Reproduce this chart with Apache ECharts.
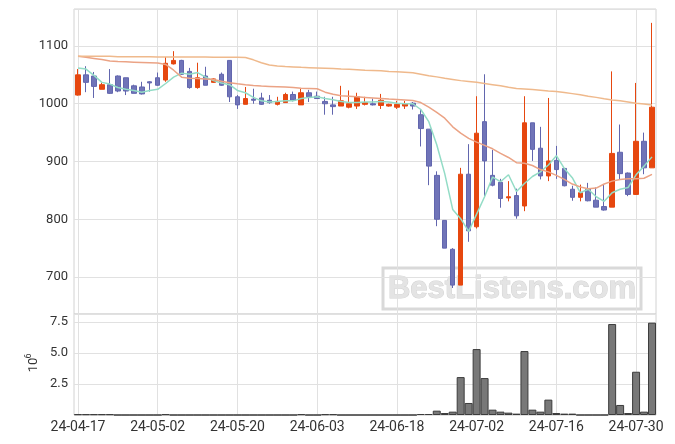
<!DOCTYPE html>
<html>
<head>
<meta charset="utf-8">
<script src="https://cdn.jsdelivr.net/npm/echarts@6/dist/echarts.min.js"></script>
<style>
html,body{margin:0;padding:0;background:#fff;}
#chart{width:675px;height:444px;}
</style>
</head>
<body>
<div id="chart"></div>
<script>
const dates = ['24-04-17','24-04-18','24-04-19','24-04-22','24-04-23','24-04-24','24-04-25','24-04-26','24-04-29','24-04-30',
'24-05-02','24-05-03','24-05-07','24-05-08','24-05-09','24-05-10','24-05-13','24-05-14','24-05-16','24-05-17',
'24-05-20','24-05-21','24-05-22','24-05-23','24-05-24','24-05-27','24-05-28','24-05-29','24-05-30','24-05-31',
'24-06-03','24-06-04','24-06-05','24-06-07','24-06-10','24-06-11','24-06-12','24-06-13','24-06-14','24-06-17',
'24-06-18','24-06-19','24-06-20','24-06-21','24-06-24','24-06-25','24-06-26','24-06-27','24-06-28','24-07-01',
'24-07-02','24-07-03','24-07-04','24-07-05','24-07-08','24-07-09','24-07-10','24-07-11','24-07-12','24-07-15',
'24-07-16','24-07-17','24-07-18','24-07-19','24-07-22','24-07-23','24-07-24','24-07-25','24-07-26','24-07-29',
'24-07-30','24-07-31','24-08-01'];

const open = [1015,1050,1048,1025,1033,1048,1045,1031,1029,1038,
1045,1041,1069,1075,1056,1028,1048,1037,1051,1075,
1012,999,1008,1010,1006,999,1002,1016,998,1019,
1013,1004,998,996,994,996,999,1000,997,996,
994,996,1001,981,956,876,798,748,686,878,
787,969,876,864,837,841,823,967,923,875,
902,888,852,838,852,833,822,821,916,880,
843,935,889];
const close = [1050,1037,1030,1033,1018,1022,1022,1018,1017,1036,
1032,1070,1075,1051,1028,1045,1032,1043,1032,1012,
998,1009,1006,999,1002,1004,1016,1006,1019,1012,
1009,1000,995,1005,1000,1012,1002,998,1006,999,
999,1000,996,957,892,800,750,686,878,780,
949,901,859,836,839,806,967,921,875,901,
886,858,838,846,832,821,816,914,879,843,
935,889,994];
const low = [1014,1020,1010,1025,1017,1020,1015,1018,1016,1021,
1031,1038,1068,1050,1026,1026,1032,1036,1031,1003,
991,999,1000,998,1000,997,1002,1004,998,1003,
1009,981,981,996,992,991,997,997,991,995,
991,991,990,926,859,788,750,681,686,761,
784,840,857,820,831,801,814,901,869,866,
870,857,832,831,831,821,815,821,869,840,
842,878,889];
const high = [1060,1065,1055,1037,1060,1049,1045,1033,1038,1039,
1054,1081,1091,1076,1062,1071,1064,1044,1054,1075,
1015,1029,1026,1019,1015,1012,1019,1021,1026,1024,
1021,1012,1012,1031,1023,1019,1012,1009,1017,1000,
1005,1005,1003,991,956,883,798,750,889,930,
1013,1051,920,870,866,853,1013,967,960,1010,
927,888,858,860,863,855,860,1056,964,881,
1036,950,1140];

const volume = [60000,60000,60000,60000,60000,0,0,0,0,0,
0,60000,0,0,0,0,0,0,0,0,
0,0,0,0,0,0,0,0,60000,0,
0,60000,60000,0,0,0,0,0,0,0,
0,0,0,80000,80000,350000,160000,270000,3060000,970000,
5320000,2980000,430000,270000,190000,110000,5160000,430000,270000,1240000,
160000,110000,110000,0,0,0,0,7340000,810000,160000,
3490000,270000,7450000];

const ma5 = [1062,1060,1049,1037,1034,1028,1025,1023,1020,1023,
1025,1035,1046,1053,1051,1054,1046,1040,1036,1033,
1023,1019,1011,1005,1003,1004,1005,1005,1009,1011,
1012,1009,1007,1004,1002,1002,1003,1003,1004,1003,
1001,1000,1000,990,969,929,879,817,801,779,
809,839,873,865,877,848,862,874,882,894,
910,888,872,846,852,839,831,846,852,855,
877,892,908];
const ma20 = [1082,1080.5,1078.5,1076.5,1074,1073,1072.5,1072,1071.5,1071,
1070.5,1068,1058,1046,1044,1043.5,1043,1042,1039,1036.5,
1034.5,1033,1031.7,1030.5,1030,1029.5,1029,1028,1027,1026.5,
1026,1020,1016.5,1014,1013,1012,1011,1010,1009,1008,
1007.4,1006.5,1005.5,1002,994,985,975,960,949,940,
933.6,928,922,914,907,898,897,893,886,882,
876,869,861,856,853,854,861,866,869,870,
870,871,877.6];
const ma60 = [1082,1082,1082,1082,1082,1081.5,1081.5,1081.5,1081.5,1081.5,
1081,1081,1081,1081,1081,1081,1081,1080.5,1080.5,1080.5,
1080.5,1080,1076,1071,1067,1065.5,1064.5,1063.8,1063,1062.5,
1062,1061.5,1061,1060,1059.5,1059,1058,1057.5,1057,1056,
1055.5,1054.5,1053.5,1051,1048.5,1046.5,1044,1042,1040,1038.5,
1037,1035,1033,1031,1028.5,1026.5,1025.5,1024.5,1023.5,1022,
1021,1019.5,1017.5,1015.5,1013,1011,1008.5,1006.5,1005,1003,
1001,999.5,998];

const ohlc = dates.map((d, i) => [open[i], close[i], low[i], high[i]]);

const FONT = 'Roboto';
const gridColor = '#e1e1e1';
const frameColor = '#d2d2d2';
const labelColor = '#333333';

const chart = echarts.init(document.getElementById('chart'), null, {renderer: 'canvas'});
const option = {
  animation: false,
  backgroundColor: '#ffffff',
  grid: [
    {left: 74, right: 19, top: 9, height: 305, show: true, borderColor: frameColor, borderWidth: 1, backgroundColor: 'rgba(0,0,0,0)'},
    {left: 74, right: 19, top: 314, height: 101, show: true, borderColor: frameColor, borderWidth: 1, backgroundColor: 'rgba(0,0,0,0)'}
  ],
  xAxis: [
    {type: 'category', gridIndex: 0, data: dates, boundaryGap: true,
     axisLine: {show: false}, axisTick: {show: false}, axisLabel: {show: false},
     splitLine: {show: true, interval: 9, alignWithLabel: true, lineStyle: {color: gridColor, width: 1}}},
    {type: 'category', gridIndex: 1, data: dates, boundaryGap: true,
     axisLine: {show: false}, axisTick: {show: false},
     axisLabel: {interval: 9, fontFamily: FONT, fontSize: 14, color: labelColor, margin: 5},
     splitLine: {show: true, interval: 9, alignWithLabel: true, lineStyle: {color: gridColor, width: 1}}}
  ],
  yAxis: [
    {type: 'value', gridIndex: 0, min: 636, max: 1164, scale: true,
     axisLine: {show: false}, axisTick: {show: false},
     axisLabel: {fontFamily: FONT, fontSize: 13, color: labelColor, margin: 6, showMinLabel: false, showMaxLabel: false,
       formatter: v => String(v)},
     splitLine: {show: true, lineStyle: {color: gridColor, width: 1}}},
    {type: 'value', gridIndex: 1, min: 0, max: 8150000, interval: 2500000,
     axisLine: {show: false}, axisTick: {show: false},
     axisLabel: {fontFamily: FONT, fontSize: 13, color: labelColor, margin: 6, showMinLabel: false, showMaxLabel: false,
       formatter: v => (v / 1e6).toFixed(1)},
     splitLine: {show: true, lineStyle: {color: gridColor, width: 1}}}
  ],
  graphic: [
    {type: 'group', z: -5, zlevel: 0, children: [
      {type: 'rect', shape: {x: 383, y: 268, width: 258, height: 41}, silent: true,
       style: {fill: 'rgba(255,255,255,0)', stroke: '#d9d9d9', lineWidth: 3}},
      {type: 'text', x: 512, y: 289, silent: true,
       style: {text: 'BestListens.com', font: 'bold 31px "Liberation Sans", Arial, sans-serif',
         fill: '#e4e4e4', stroke: '#d2d2d2', lineWidth: 1, align: 'center', verticalAlign: 'middle'}}
    ]},
    {type: 'text', x: 33.5, y: 365, rotation: Math.PI / 2, silent: true,
     style: {text: '10', font: '13px Roboto', fill: labelColor, align: 'center', verticalAlign: 'middle'}},
    {type: 'text', x: 29, y: 356, rotation: Math.PI / 2, silent: true,
     style: {text: '6', font: '9px Roboto', fill: labelColor, align: 'center', verticalAlign: 'middle'}}
  ],
  series: [
    {type: 'candlestick', name: 'price', xAxisIndex: 0, yAxisIndex: 0, data: ohlc, barWidth: 5, z: 2,
     itemStyle: {color: '#e6470f', color0: '#7074b8', borderColor: '#e6470f', borderColor0: '#6266ae', borderWidth: 1}},
    {type: 'line', name: 'MA5', xAxisIndex: 0, yAxisIndex: 0, data: ma5, showSymbol: false, symbol: 'none', z: 3,
     lineStyle: {color: '#93dcc6', width: 1.5}},
    {type: 'line', name: 'MA20', xAxisIndex: 0, yAxisIndex: 0, data: ma20, showSymbol: false, symbol: 'none', z: 3,
     lineStyle: {color: '#eba385', width: 1.5}},
    {type: 'line', name: 'MA60', xAxisIndex: 0, yAxisIndex: 0, data: ma60, showSymbol: false, symbol: 'none', z: 3,
     lineStyle: {color: '#efb98c', width: 1.5}},
    {type: 'bar', name: 'volume', xAxisIndex: 1, yAxisIndex: 1, data: volume, barWidth: '100%', barCategoryGap: 0,
     itemStyle: {color: '#787878', borderColor: '#3c3c3c', borderWidth: 1}}
  ]
};
chart.setOption(option);
</script>
</body>
</html>
